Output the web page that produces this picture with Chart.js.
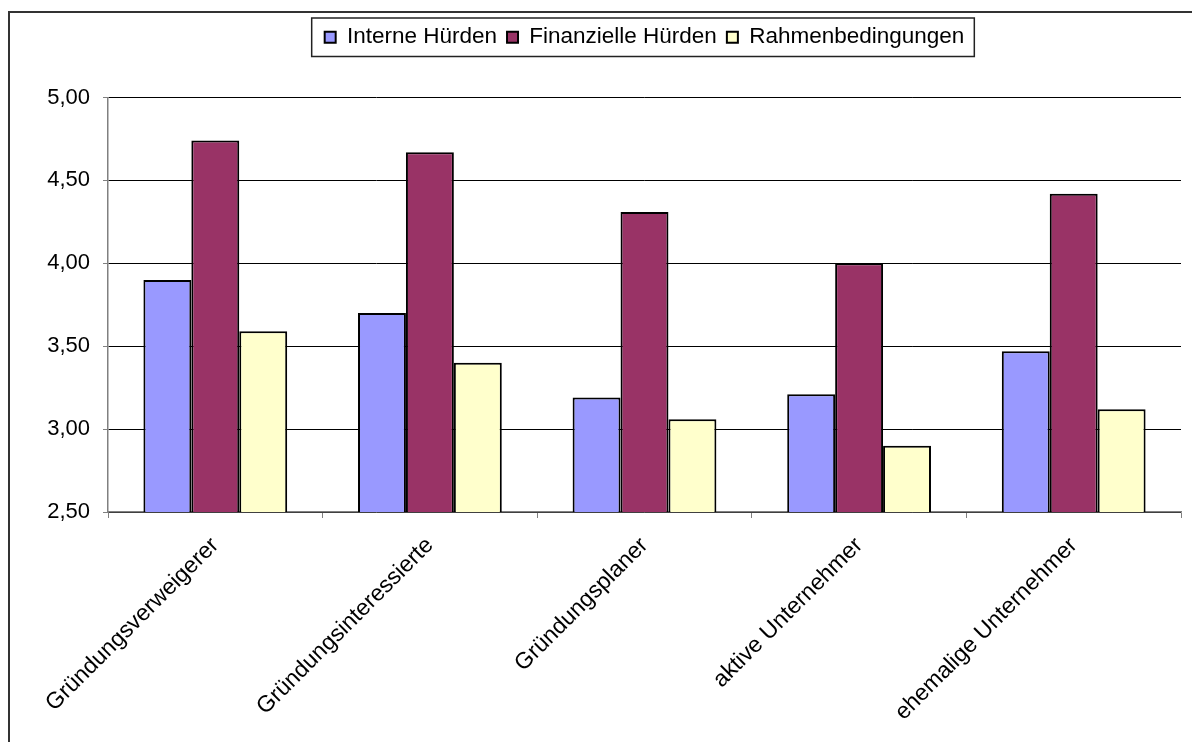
<!DOCTYPE html>
<html lang="de">
<head>
  <meta charset="UTF-8">
  <title>Hürden nach Gründertyp</title>
  <script src="https://cdn.jsdelivr.net/npm/chart.js@4.4.0/dist/chart.umd.min.js"></script>
  <style>
    body { margin: 0; background: #fff; }
    #frame {
      position: absolute; left: 8px; top: 11px; width: 1300px; height: 800px;
      border-left: 2px solid #333; border-top: 2px solid #333;
    }
    #wrap { position: absolute; left: 0; top: 0; width: 1192px; height: 742px; }
  </style>
</head>
<body>
  <div id="frame"></div>
  <div id="wrap"><canvas id="myChart" width="1192" height="742"></canvas></div>
  <script>
    // Gruppen (x-Achse)
    const categories = ['Gründungsverweigerer', 'Gründungsinteressierte', 'Gründungsplaner', 'aktive Unternehmer', 'ehemalige Unternehmer'];
    // Mittelwerte je Hürdentyp
    const interneHuerden = [3.90, 3.70, 3.19, 3.21, 3.47];
    const finanzielleHuerden = [4.74, 4.67, 4.31, 4.00, 4.42];
    const rahmenbedingungen = [3.59, 3.40, 3.06, 2.90, 3.12];
    // y-Achse
    const yMin = 2.5, yMax = 5.0, yStep = 0.5;

    const family = 'Liberation Sans, Arial, sans-serif';
    const font = { family: family, size: 22 };

    // extra space below the legend so the plot starts lower
    const legendSpacer = {
      id: 'legendSpacer',
      beforeInit(chart) {
        const fit = chart.legend.fit;
        chart.legend.fit = function () {
          fit.call(this);
          this.height += 39;
        };
      }
    };

    // box round the legend, like the original
    const legendBox = {
      id: 'legendBox',
      afterDraw(chart) {
        const boxes = chart.legend.legendHitBoxes;
        if (!boxes || !boxes.length) return;
        const first = boxes[0], last = boxes[boxes.length - 1];
        const ctx = chart.ctx;
        const left = first.left - 13;
        const right = last.left + last.width + 10;
        const top = first.top - 8;
        const bottom = first.top + first.height + 8;
        ctx.save();
        ctx.strokeStyle = '#222';
        ctx.lineWidth = 1.5;
        ctx.strokeRect(left, top, right - left, bottom - top);
        ctx.restore();
      }
    };

    const data = {
      labels: categories,
      datasets: [{
        label: 'Interne Hürden',
        data: interneHuerden,
        backgroundColor: '#9999FF'
      }, {
        label: 'Finanzielle Hürden',
        data: finanzielleHuerden,
        backgroundColor: '#993366'
      }, {
        label: 'Rahmenbedingungen',
        data: rahmenbedingungen,
        backgroundColor: '#FFFFCC'
      }]
    };
    data.datasets.forEach(ds => {
      ds.borderColor = '#000';
      ds.borderWidth = 2;
      ds.barPercentage = 1.0;
      ds.categoryPercentage = 0.67;
    });

    new Chart(document.getElementById('myChart'), {
      type: 'bar',
      data: data,
      plugins: [legendSpacer, legendBox],
      options: {
        responsive: false,
        animation: false,
        layout: { padding: { top: 16, right: 11, bottom: 0, left: 0 } },
        plugins: {
          tooltip: { enabled: false },
          legend: {
            position: 'top',
            fullSize: false,
            labels: {
              color: '#000',
              font: { family: family, size: 22.5 },
              boxWidth: 11,
              boxHeight: 11,
              padding: 10,
              useBorderRadius: false
            }
          }
        },
        scales: {
          x: {
            grid: { display: true, drawOnChartArea: false, color: '#808080', tickLength: 6, offset: true },
            border: { color: '#808080', width: 1.5 },
            ticks: { color: '#000', font: { family: family, size: 23 }, minRotation: 45, maxRotation: 45, padding: 14, autoSkip: false },
            afterFit(scale) { scale.height = 230; }
          },
          y: {
            min: yMin,
            max: yMax,
            grid: { color: '#000', lineWidth: 1, tickLength: 5, tickColor: '#808080' },
            border: { color: '#808080', width: 1.5 },
            ticks: {
              stepSize: yStep,
              color: '#000',
              font: font,
              padding: 13,
              callback: v => v.toFixed(2).replace('.', ',')
            },
            afterFit(scale) { scale.width = 108; }
          }
        }
      }
    });
  </script>
</body>
</html>
